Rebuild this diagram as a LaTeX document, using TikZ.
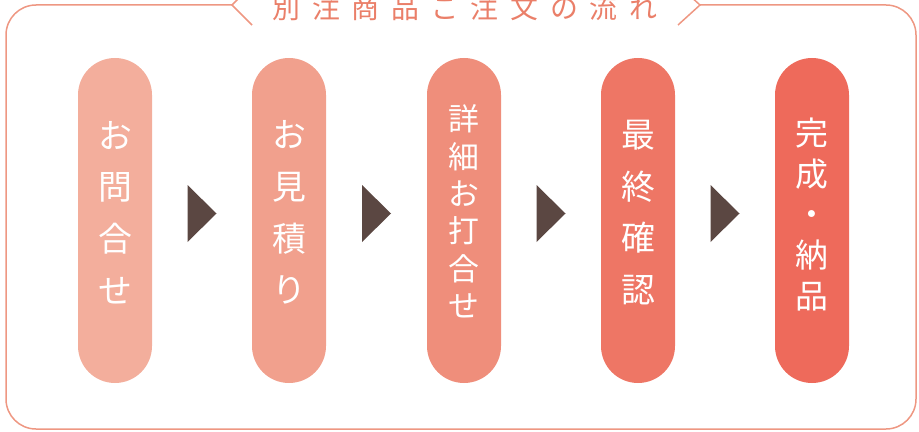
\documentclass[tikz,border=0pt]{standalone}
\usepackage{fontspec}
\newfontfamily\jpfont{Noto Sans CJK JP}
\usepackage{xcolor}
\usetikzlibrary{calc}
\definecolor{framec}{HTML}{EE9782}
\definecolor{titlec}{HTML}{EA7F69}
\definecolor{stepa}{HTML}{F3AE9C}
\definecolor{stepb}{HTML}{F1A08D}
\definecolor{stepc}{HTML}{EF8E7B}
\definecolor{stepd}{HTML}{EE7665}
\definecolor{stepe}{HTML}{EE6A5B}
\definecolor{arrowc}{HTML}{5B4742}
\tikzset{
  frame/.style={draw=framec, line width=1.5bp},
  pill/.style={rounded corners=37bp, minimum width=74bp, minimum height=325bp, inner sep=0pt},
  pilltext/.style={text=white, align=center, inner sep=0pt},
  tip/.style={fill=arrowc}
}

\begin{document}
\begin{tikzpicture}[x=1bp, y=1bp]
			\useasboundingbox (0,0) rectangle (919,431);
			\draw[frame, rounded corners=30bp] (232,426) -- (6,426) -- (6,2) -- (916,2) -- (916,426) -- (700,426);
			\draw[frame] (252,446) -- (232,426) -- (252,406);
			\draw[frame] (678,446) -- (700,426) -- (678,406);
			\node[text=titlec, font=\jpfont\fontsize{28}{28}\selectfont\addfontfeature{LetterSpace=42}] (title) at (465,423) {別注商品ご注文の流れ};
			\node[pill, fill=stepa] (p1) at (115,210.5) {};
			\node[pill, fill=stepb] (p2) at (289,210.5) {};
			\node[pill, fill=stepc] (p3) at (464,210.5) {};
			\node[pill, fill=stepd] (p4) at (638,210.5) {};
			\node[pill, fill=stepe] (p5) at (812,210.5) {};
			\node[pilltext, font=\jpfont\fontsize{34}{52}\selectfont] (t1) at ($(p1)+(0,8)$) {お\\問\\合\\せ};
			\node[pilltext, font=\jpfont\fontsize{34}{52}\selectfont] (t2) at ($(p2)+(0,8)$) {お\\見\\積\\り};
			\node[pilltext, font=\jpfont\fontsize{31}{37.5}\selectfont] (t3) at ($(p3)+(0,9)$) {詳\\細\\お\\打\\合\\せ};
			\node[pilltext, font=\jpfont\fontsize{34}{52}\selectfont] (t4) at ($(p4)+(0,8)$) {最\\終\\確\\認};
			\node[pilltext, font=\jpfont\fontsize{33}{41}\selectfont] (t5) at ($(p5)+(0,6)$) {完\\成\\・\\納\\品};
			\coordinate (a1) at ($(p1)!0.5!(p2)+(0,7)$);
			\coordinate (a2) at ($(p2)!0.5!(p3)+(0,7)$);
			\coordinate (a3) at ($(p3)!0.5!(p4)+(0,7)$);
			\coordinate (a4) at ($(p4)!0.5!(p5)+(0,7)$);
			\fill[tip] (a1) ++(-14.5,28.5) -- ++(29,-28.5) -- ++(-29,-28.5) -- cycle;
			\fill[tip] (a2) ++(-14.5,28.5) -- ++(29,-28.5) -- ++(-29,-28.5) -- cycle;
			\fill[tip] (a3) ++(-14.5,28.5) -- ++(29,-28.5) -- ++(-29,-28.5) -- cycle;
			\fill[tip] (a4) ++(-14.5,28.5) -- ++(29,-28.5) -- ++(-29,-28.5) -- cycle;
		\end{tikzpicture}
\end{document}
